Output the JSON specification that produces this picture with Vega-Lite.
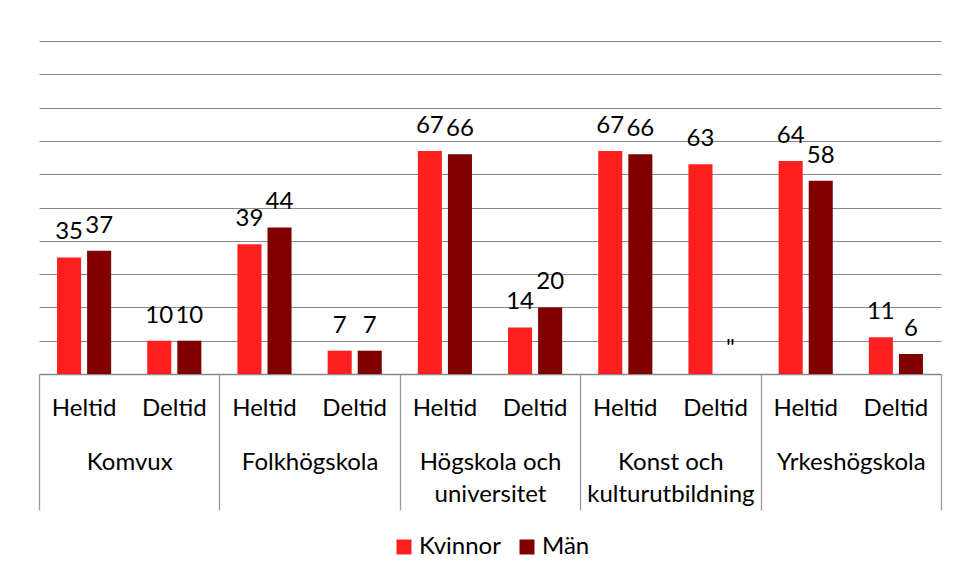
{
  "$schema": "https://vega.github.io/schema/vega-lite/v6.json",
  "width": 902,
  "height": 333,
  "padding": {"left": 38, "top": 41, "right": 14, "bottom": 0},
  "background": "white",
  "config": {"font": "Lato", "view": {"stroke": null}},
  "data": {
    "values": [
      {"group": "Komvux", "type": "Heltid", "gender": "Kvinnor", "value": 35},
      {"group": "Komvux", "type": "Heltid", "gender": "Män", "value": 37},
      {"group": "Komvux", "type": "Deltid", "gender": "Kvinnor", "value": 10},
      {"group": "Komvux", "type": "Deltid", "gender": "Män", "value": 10},
      {"group": "Folkhögskola", "type": "Heltid", "gender": "Kvinnor", "value": 39},
      {"group": "Folkhögskola", "type": "Heltid", "gender": "Män", "value": 44},
      {"group": "Folkhögskola", "type": "Deltid", "gender": "Kvinnor", "value": 7},
      {"group": "Folkhögskola", "type": "Deltid", "gender": "Män", "value": 7},
      {"group": "Högskola och universitet", "type": "Heltid", "gender": "Kvinnor", "value": 67},
      {"group": "Högskola och universitet", "type": "Heltid", "gender": "Män", "value": 66},
      {"group": "Högskola och universitet", "type": "Deltid", "gender": "Kvinnor", "value": 14},
      {"group": "Högskola och universitet", "type": "Deltid", "gender": "Män", "value": 20},
      {"group": "Konst och kulturutbildning", "type": "Heltid", "gender": "Kvinnor", "value": 67},
      {"group": "Konst och kulturutbildning", "type": "Heltid", "gender": "Män", "value": 66},
      {"group": "Konst och kulturutbildning", "type": "Deltid", "gender": "Kvinnor", "value": 63},
      {"group": "Konst och kulturutbildning", "type": "Deltid", "gender": "Män", "value": null},
      {"group": "Yrkeshögskola", "type": "Heltid", "gender": "Kvinnor", "value": 64},
      {"group": "Yrkeshögskola", "type": "Heltid", "gender": "Män", "value": 58},
      {"group": "Yrkeshögskola", "type": "Deltid", "gender": "Kvinnor", "value": 11},
      {"group": "Yrkeshögskola", "type": "Deltid", "gender": "Män", "value": 6}
    ]
  },
  "transform": [
    {"calculate": "datum.group + '|' + datum.type", "as": "cat"},
    {"calculate": "datum.value === null ? 0 : datum.value", "as": "ly"},
    {"calculate": "datum.value === null ? '\"' : '' + datum.value", "as": "lab"}
  ],
  "layer": [
    {
      "layer": [
        {
          "mark": {"type": "bar"},
          "encoding": {
            "x": {
              "field": "cat", "type": "nominal", "sort": null,
              "scale": {"paddingInner": 0, "paddingOuter": 0},
              "axis": {
                "orient": "bottom", "title": null,
                "labelExpr": "split(datum.label, '|')[1]",
                "labelAngle": 0, "ticks": false,
                "domainColor": "#898989", "domainWidth": 1.3,
                "labelFontSize": 24, "labelColor": "#000000",
                "labelPadding": 22, "labelFont": "Lato"
              }
            },
            "xOffset": {
              "field": "gender", "type": "nominal", "sort": ["Kvinnor", "Män"],
              "scale": {"paddingInner": 0.2, "paddingOuter": 0.6}
            },
            "y": {
              "field": "value", "type": "quantitative",
              "scale": {"domain": [0, 100]},
              "axis": {
                "title": null, "labels": false, "ticks": false, "domain": false,
                "values": [0, 10, 20, 30, 40, 50, 60, 70, 80, 90, 100],
                "gridColor": "#898989", "gridWidth": 1.2
              }
            },
            "color": {
              "field": "gender", "type": "nominal",
              "scale": {"domain": ["Kvinnor", "Män"], "range": ["#FF1F1F", "#800000"]},
              "legend": {
                "orient": "none", "legendX": 353, "legendY": 494, "padding": 0,
                "title": null, "direction": "horizontal",
                "labelFontSize": 24, "labelColor": "#000000", "labelFont": "Lato",
                "symbolType": "square", "symbolSize": 225, "symbolStrokeWidth": 0,
                "symbolOpacity": 1, "columnPadding": 14, "labelOffset": 3
              }
            }
          }
        },
        {
          "mark": {"type": "text", "baseline": "alphabetic", "dy": -18, "fontSize": 24, "color": "#000000", "font": "Lato"},
          "encoding": {
            "x": {
              "field": "cat", "type": "nominal", "sort": null,
              "scale": {"paddingInner": 0, "paddingOuter": 0},
              "axis": {
                "orient": "bottom", "title": null,
                "labelExpr": "split(datum.label, '|')[1]",
                "labelAngle": 0, "ticks": false,
                "domainColor": "#898989", "domainWidth": 1.3,
                "labelFontSize": 24, "labelColor": "#000000",
                "labelPadding": 22, "labelFont": "Lato"
              }
            },
            "xOffset": {"field": "gender", "type": "nominal", "sort": ["Kvinnor", "Män"]},
            "y": {
              "field": "ly", "type": "quantitative",
              "axis": {
                "title": null, "labels": false, "ticks": false, "domain": false,
                "values": [0, 10, 20, 30, 40, 50, 60, 70, 80, 90, 100],
                "gridColor": "#898989", "gridWidth": 1.2
              }
            },
            "text": {"field": "lab"}
          }
        }
      ]
    },
    {
      "mark": {"type": "rule", "opacity": 0},
      "encoding": {
        "x": {
          "field": "group", "type": "nominal", "sort": null,
          "scale": {"paddingInner": 0, "paddingOuter": 0},
          "axis": {
            "orient": "bottom", "title": null, "domain": false,
            "ticks": true, "tickBand": "extent", "tickSize": 136,
            "tickColor": "#9a9a9a", "tickWidth": 1.3,
            "labelAngle": 0, "labelFontSize": 24, "labelColor": "#000000",
            "labelFont": "Lato", "labelPadding": -60, "labelLineHeight": 32,
            "labelLimit": 400, "labelOverlap": false,
            "labelExpr": "split(replace(datum.label, ' och ', ' och|'), '|')"
          }
        }
      }
    }
  ],
  "resolve": {"scale": {"x": "independent"}, "axis": {"x": "independent"}}
}
